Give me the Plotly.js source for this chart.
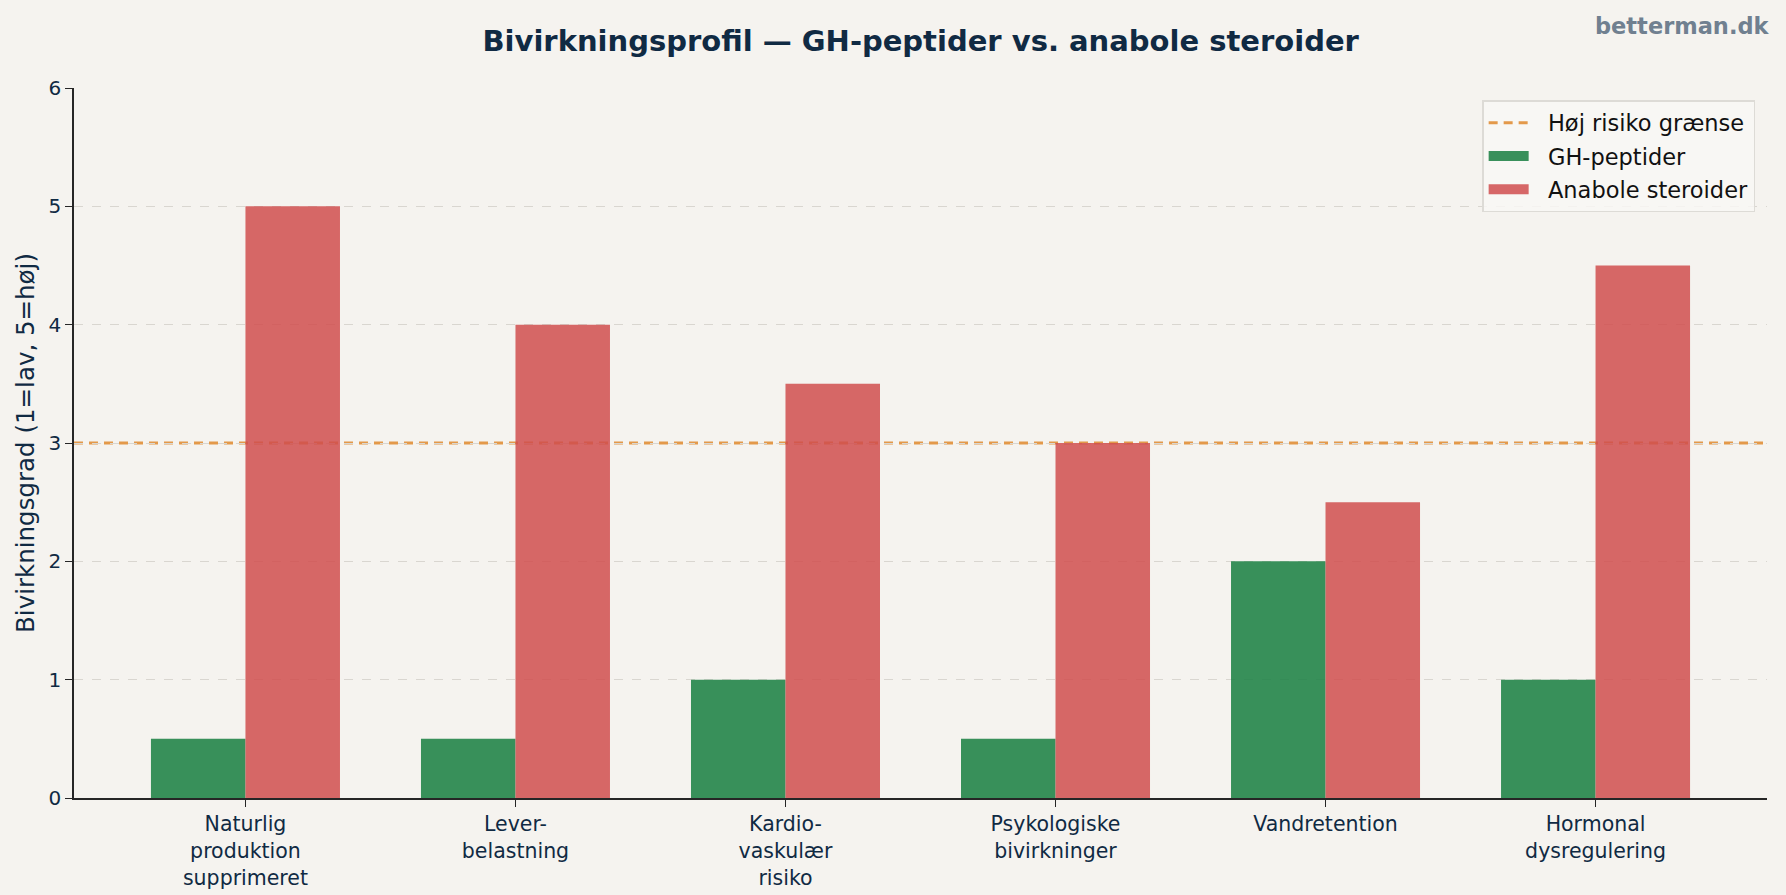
<!DOCTYPE html>
<html>
<head>
<meta charset="utf-8">
<script src="https://cdn.plot.ly/plotly-3.0.1.min.js"></script>
<style>
html,body{margin:0;padding:0;background:#f5f3ef;}
#chart{width:1786px;height:895px;}
</style>
</head>
<body>
<div id="chart"></div>
<script>
const categories = [
  "Naturlig<br>produktion<br>supprimeret",
  "Lever-<br>belastning",
  "Kardio-<br>vaskulær<br>risiko",
  "Psykologiske<br>bivirkninger",
  "Vandretention",
  "Hormonal<br>dysregulering"
];
const ghPeptider = [0.5, 0.5, 1, 0.5, 2, 1];
const anaboleSteroider = [5, 4, 3.5, 3, 2.5, 4.5];
const threshold = 3;
const yTicks = [0, 1, 2, 3, 4, 5, 6];
const legendNames = ["Høj risiko grænse", "GH-peptider", "Anabole steroider"];

const font = "DejaVu Sans, sans-serif";
const navy = "#102a43";
const green = "rgba(30,130,70,0.88)";
const red = "rgba(208,78,78,0.85)";
const orange = "#e3994a";
const pad = "\u00a0\u00a0";

const xs = categories.map((c, i) => i);

const traces = [
  {
    type: "bar", name: "GH-peptider", showlegend: false,
    x: xs, y: ghPeptider,
    marker: {color: green, line: {width: 0}}
  },
  {
    type: "bar", name: "Anabole steroider", showlegend: false,
    x: xs, y: anaboleSteroider,
    marker: {color: red, line: {width: 0}}
  },
  {
    type: "scatter", mode: "lines", name: pad + legendNames[0], legendgroup: "a", legendrank: 1,
    x: [null], y: [null],
    line: {color: orange, width: 3, dash: "9px,6px"}, hoverinfo: "skip"
  },
  {
    type: "scatter", mode: "lines", name: pad + legendNames[1], legendgroup: "b", legendrank: 2,
    x: [null], y: [null],
    line: {color: green, width: 17}, hoverinfo: "skip"
  },
  {
    type: "scatter", mode: "lines", name: pad + legendNames[2], legendgroup: "c", legendrank: 3,
    x: [null], y: [null],
    line: {color: red, width: 17}, hoverinfo: "skip"
  }
];

const layout = {
  width: 1786, height: 895,
  paper_bgcolor: "#f5f3ef", plot_bgcolor: "#f5f3ef",
  font: {family: font, color: navy, size: 20},
  margin: {l: 74, r: 19, t: 88, b: 97},
  barmode: "group", bargap: 0.3, bargroupgap: 0,
  title: {
    text: "<b>Bivirkningsprofil — GH-peptider vs. anabole steroider</b>",
    font: {family: font, size: 29, color: navy},
    x: 0.5155, xanchor: "center", y: 0.954, yanchor: "middle"
  },
  xaxis: {
    range: [-0.635, 5.635],
    tickmode: "array", tickvals: xs, ticktext: categories,
    showline: true, linecolor: "#262626", linewidth: 1.5,
    ticks: "outside", ticklen: 7, tickcolor: "#262626", tickwidth: 1.3,
    showgrid: false, zeroline: false,
    tickfont: {family: font, size: 20.5, color: navy}
  },
  yaxis: {
    range: [0, 6],
    tickmode: "array", tickvals: yTicks,
    showline: true, linecolor: "#262626", linewidth: 1.5,
    ticks: "outside", ticklen: 7, tickcolor: "#262626", tickwidth: 1.3,
    showgrid: true, gridcolor: "#d9d6d0", griddash: "dash", gridwidth: 1.2,
    zeroline: false,
    tickfont: {family: font, size: 20, color: navy},
    title: {text: "Bivirkningsgrad (1=lav, 5=høj)", font: {family: font, size: 24.5, color: navy}, standoff: 7}
  },
  shapes: [{
    type: "line", xref: "paper", x0: 0, x1: 1, yref: "y", y0: threshold, y1: threshold,
    line: {color: orange, width: 3, dash: "9px,6px"}, layer: "below"
  }],
  legend: {
    x: 0.993, xanchor: "right", y: 0.983, yanchor: "top",
    bgcolor: "rgba(248,247,245,0.85)", bordercolor: "#dddbd6", borderwidth: 1.5,
    font: {family: font, size: 22.5, color: "#111"},
    traceorder: "grouped", tracegroupgap: 1, itemwidth: 40
  },
  annotations: [{
    text: "<b>betterman.dk</b>", xref: "paper", yref: "paper",
    x: 1.003, xanchor: "right", y: 1.088, yanchor: "middle", showarrow: false,
    font: {family: font, size: 22.5, color: "#708090"}
  }]
};

Plotly.newPlot("chart", traces, layout, {displayModeBar: false, responsive: false});
</script>
</body>
</html>
